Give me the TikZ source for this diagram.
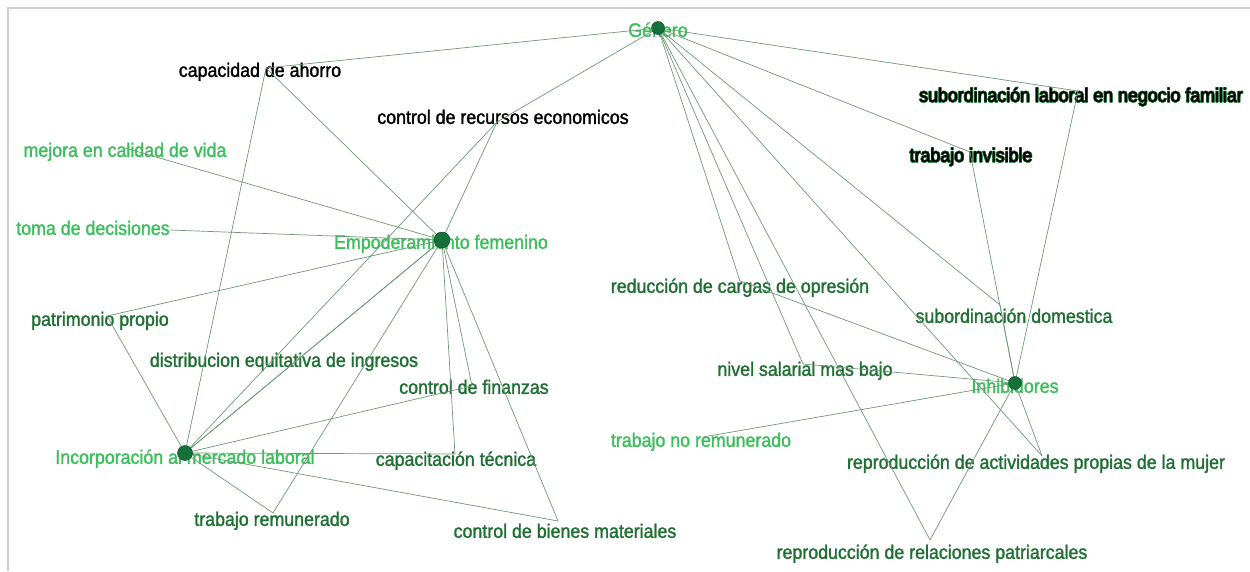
\documentclass[tikz,border=0pt]{standalone}
\usepackage{fontspec}
\setmainfont{Liberation Sans}[FakeStretch=0.913,FakeBold=1.5]
\usepackage{contour}
\contourlength{0.5pt}
\definecolor{lgreen}{RGB}{60,190,92}
\definecolor{dgreen}{RGB}{32,112,52}
\definecolor{halo}{RGB}{50,140,70}
\definecolor{edgec}{RGB}{112,152,118}
\definecolor{dotc}{RGB}{22,112,58}
\definecolor{dotd}{RGB}{14,80,40}
\definecolor{framec}{RGB}{205,205,205}
\begin{document}
\begin{tikzpicture}[x=1pt,y=-1pt,
  lbl/.style={inner sep=0pt, font=\fontsize{19.5}{21}\selectfont, text height=13.5pt, text depth=3.8pt},
  lg/.style={lbl, text=lgreen},
  dg/.style={lbl, text=dgreen},
  bk/.style={lbl, text=black},
  edge/.style={draw=edgec, line width=0.7pt},
  hub/.style={circle, fill=dotc, draw=dotd, line width=0.5pt, inner sep=0pt, minimum size=#1},
  hub/.default=14pt]
\useasboundingbox (0,0) rectangle (1250,571);
\draw[framec, line width=2pt] (1250,8) -- (8,8) -- (8,571);

% attachment points
\coordinate (gen) at (658,28);
\coordinate (emp) at (442,240);
\coordinate (inc) at (185,453);
\coordinate (inh) at (1015,383);
\coordinate (cap) at (266,68);
\coordinate (rec) at (497,122);
\coordinate (mej) at (125,148);
\coordinate (tom) at (170,230);
\coordinate (pat) at (107,316);
\coordinate (dis) at (289,367);
\coordinate (fin) at (472,386);
\coordinate (capt) at (455,454);
\coordinate (bie) at (558,521);
\coordinate (trem) at (273,513);
\coordinate (sla) at (1078,91);
\coordinate (inv) at (970,152);
\coordinate (red) at (740,281);
\coordinate (sdo) at (1000,305);
\coordinate (niv) at (803,364);
\coordinate (tnr) at (703,437);
\coordinate (rac) at (1042,456);
\coordinate (rrp) at (930,540);

% labels
\node[lg] (genL) at (658,32) {Género};
\node[bk] (capL) at (260,72) {capacidad de ahorro};
\node[bk] (recL) at (503,119) {control de recursos economicos};
\node[lg] (mejL) at (125,152) {mejora en calidad de vida};
\node[lg] (tomL) at (93,230) {toma de decisiones};
\node[lg] (empL) at (441,244) {Empoderamiento femenino};
\node[dg] (patL) at (100,321) {patrimonio propio};
\node[dg] (disL) at (284,362) {distribucion equitativa de ingresos};
\node[dg] (finL) at (474,389) {control de finanzas};
\node[lg] (incL) at (185,459) {Incorporación al mercado laboral};
\node[dg] (captL) at (456,461) {capacitación técnica};
\node[dg] (tremL) at (272,521) {trabajo remunerado};
\node[dg] (bieL) at (565,533) {control de bienes materiales};
\node[bk] (slaL) at (1081,97) {\contour{halo}{subordinación laboral en negocio familiar}};
\node[bk] (invL) at (971,157) {\contour{halo}{trabajo invisible}};
\node[dg] (redL) at (740,288) {reducción de cargas de opresión};
\node[dg] (sdoL) at (1014,318) {subordinación domestica};
\node[dg] (nivL) at (805,371) {nivel salarial mas bajo};
\node[lg] (inhL) at (1015,388) {Inhibidores};
\node[lg] (tnrL) at (701,442) {trabajo no remunerado};
\node[dg] (racL) at (1036,464) {reproducción de actividades propias de la mujer};
\node[dg] (rrpL) at (932,554) {reproducción de relaciones patriarcales};

% connectors
\foreach \t in {cap,rec,red,niv,rrp,rac,sdo,inv,sla} \draw[edge] (gen) -- (\t);
\foreach \t in {cap,rec,mej,tom,pat,inc,dis,fin,capt,bie,trem} \draw[edge] (emp) -- (\t);
\foreach \t in {cap,rec,pat,dis,fin,capt,bie,trem} \draw[edge] (inc) -- (\t);
\foreach \t in {red,niv,tnr,sdo,inv,sla,rac,rrp} \draw[edge] (inh) -- (\t);

% hub dots
\node[hub=13pt] (genD) at (gen) {};
\node[hub=16pt] (empD) at (emp) {};
\node[hub=15pt] (incD) at (inc) {};
\node[hub=13pt] (inhD) at (inh) {};
\end{tikzpicture}
\end{document}
